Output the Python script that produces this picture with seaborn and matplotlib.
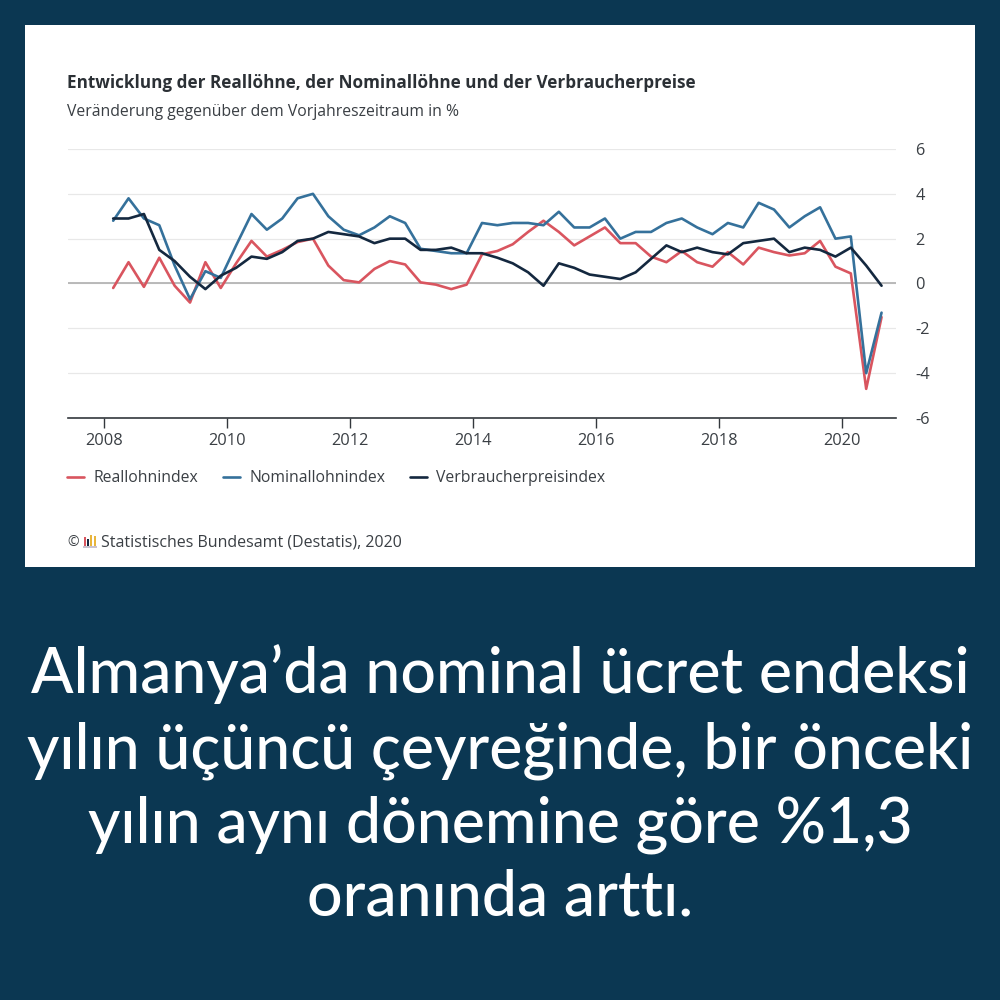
import matplotlib
matplotlib.use("Agg")
import matplotlib.pyplot as plt
from matplotlib.patches import Rectangle
import numpy as np
import pandas as pd
import seaborn as sns

years = [2008, 2010, 2012, 2014, 2016, 2018, 2020]
y_ticks = [-6, -4, -2, 0, 2, 4, 6]
quarter_time = [y + (q - 0.42) / 4 for y in range(2008, 2021) for q in range(1, 5)][:51]

real_index = [-0.2, 0.95, -0.15, 1.15,
              -0.1, -0.85, 0.95, -0.2,
              0.9, 1.9, 1.2, 1.5,
              1.85, 2.0, 0.8, 0.15,
              0.05, 0.65, 1.0, 0.85,
              0.05, -0.05, -0.25, -0.05,
              1.3, 1.45, 1.75, 2.3,
              2.8, 2.3, 1.7, 2.1,
              2.5, 1.8, 1.8, 1.2,
              0.95, 1.45, 0.95, 0.75,
              1.4, 0.85, 1.6, 1.4,
              1.25, 1.35, 1.9, 0.75,
              0.45, -4.7, -1.5]
nominal_index = [2.8, 3.8, 2.9, 2.6,
                 0.8, -0.7, 0.55, 0.25,
                 1.7, 3.1, 2.4, 2.9,
                 3.8, 4.0, 3.0, 2.4,
                 2.15, 2.5, 3.0, 2.7,
                 1.55, 1.45, 1.35, 1.35,
                 2.7, 2.6, 2.7, 2.7,
                 2.6, 3.2, 2.5, 2.5,
                 2.9, 2.0, 2.3, 2.3,
                 2.7, 2.9, 2.5, 2.2,
                 2.7, 2.5, 3.6, 3.3,
                 2.5, 3.0, 3.4, 2.0,
                 2.1, -4.0, -1.3]
cpi_index = [2.9, 2.9, 3.1, 1.5,
             1.0, 0.3, -0.25, 0.35,
             0.7, 1.2, 1.1, 1.4,
             1.9, 2.0, 2.3, 2.2,
             2.1, 1.8, 2.0, 2.0,
             1.5, 1.5, 1.6, 1.35,
             1.35, 1.15, 0.9, 0.5,
             -0.1, 0.9, 0.7, 0.4,
             0.3, 0.2, 0.5, 1.1,
             1.7, 1.4, 1.6, 1.4,
             1.3, 1.8, 1.9, 2.0,
             1.4, 1.6, 1.5, 1.2,
             1.6, 0.8, -0.1]

series_names = ["Reallohnindex", "Nominallohnindex", "Verbraucherpreisindex"]
series_colors = ["#d9555f", "#35719b", "#14283f"]

df = pd.DataFrame({
    "Zeit": quarter_time * 3,
    "Wert": real_index + nominal_index + cpi_index,
    "Reihe": [n for n in series_names for _ in range(51)],
})

sns.set_theme(style="white")
plt.rcParams["font.family"] = ["Open Sans", "DejaVu Sans"]
BG = "#0b3752"
TXT = "#3a3f44"

fig = plt.figure(figsize=(10, 10), dpi=100, facecolor=BG)
fig.add_artist(Rectangle((25 / 1000, 1 - 567 / 1000), 950 / 1000, 542 / 1000,
                         transform=fig.transFigure, facecolor="white", edgecolor="none", zorder=-5))

ax = fig.add_axes([68 / 1000, 1 - 418 / 1000, (896 - 68) / 1000, (418 - 149) / 1000])
ax.patch.set_alpha(0)
sns.lineplot(data=df, x="Zeit", y="Wert", hue="Reihe", hue_order=series_names,
             palette=series_colors, linewidth=1.9, ax=ax, legend=False, errorbar=None, sort=False)
ax.set_xlim(2007.41, 2020.88)
ax.set_ylim(-6, 6)
ax.set_xlabel("")
ax.set_ylabel("")
ax.set_xticks(years)
ax.set_yticks(y_ticks)
ax.yaxis.tick_right()
ax.set_yticklabels([str(v) for v in y_ticks])
ax.grid(axis="y", color="#e8e8e8", linewidth=0.9)
ax.grid(axis="x", visible=False)
ax.set_axisbelow(True)
ax.axhline(0, color="#b4b4b4", linewidth=1.3, zorder=1.5)
for side in ["top", "left", "right"]:
    ax.spines[side].set_visible(False)
ax.spines["bottom"].set_color("#33383d")
ax.spines["bottom"].set_linewidth(1.2)
ax.tick_params(axis="x", bottom=True, length=7, width=1, color="#33383d", labelsize=11.8,
               labelcolor=TXT, pad=4)
ax.tick_params(axis="y", right=False, length=0, labelsize=11.8, labelcolor=TXT, pad=14)

fig.text(67 / 1000, 1 - 83 / 1000, "Entwicklung der Reallöhne, der Nominallöhne und der Verbraucherpreise",
         fontsize=12.3, fontweight="bold", color="#2b3035", va="center", ha="left")
fig.text(67 / 1000, 1 - 112 / 1000, "Veränderung gegenüber dem Vorjahreszeitraum in %",
         fontsize=11.3, color=TXT, va="center", ha="left")

handles = [plt.Line2D([], [], color=c, linewidth=1.9) for c in series_colors]
fig.legend(handles, series_names, loc="center left", bbox_to_anchor=(0.067, 1 - 478 / 1000), ncol=3,
           frameon=False, fontsize=11.3, labelcolor=TXT, handlelength=1.08, handletextpad=0.62,
           columnspacing=1.55, borderaxespad=0, borderpad=0)

fig.text(67 / 1000, 1 - 542 / 1000, "©", fontsize=10, color=TXT, va="center", ha="left")
for left, top, width, col in [(84, 537, 2, "#d9555f"), (87, 539, 2, "#14283f"),
                              (90, 535, 2, "#e8b53c"), (94, 536, 2, "#e8b53c")]:
    fig.add_artist(Rectangle((left / 1000, 1 - 546 / 1000), width / 1000, (546 - top) / 1000,
                             transform=fig.transFigure, facecolor=col, edgecolor="none"))
fig.add_artist(Rectangle((83 / 1000, 1 - 548 / 1000), 14 / 1000, 2 / 1000,
                         transform=fig.transFigure, facecolor="#c9c3cf", edgecolor="none"))
fig.text(101 / 1000, 1 - 542.5 / 1000, "Statistisches Bundesamt (Destatis), 2020",
         fontsize=11.5, color=TXT, va="center", ha="left")

headline = ["Almanya’da nominal ücret endeksi",
            "yılın üçüncü çeyreğinde, bir önceki",
            "yılın aynı dönemine göre %1,3",
            "oranında arttı."]
for line, ypx in zip(headline, [693, 768, 843, 915]):
    fig.text(0.5, 1 - ypx / 1000, line, fontsize=45, fontweight="medium", family=["Lato", "DejaVu Sans"],
             color="white", va="baseline", ha="center")

fig.savefig("out.png", dpi=100, facecolor=BG)
